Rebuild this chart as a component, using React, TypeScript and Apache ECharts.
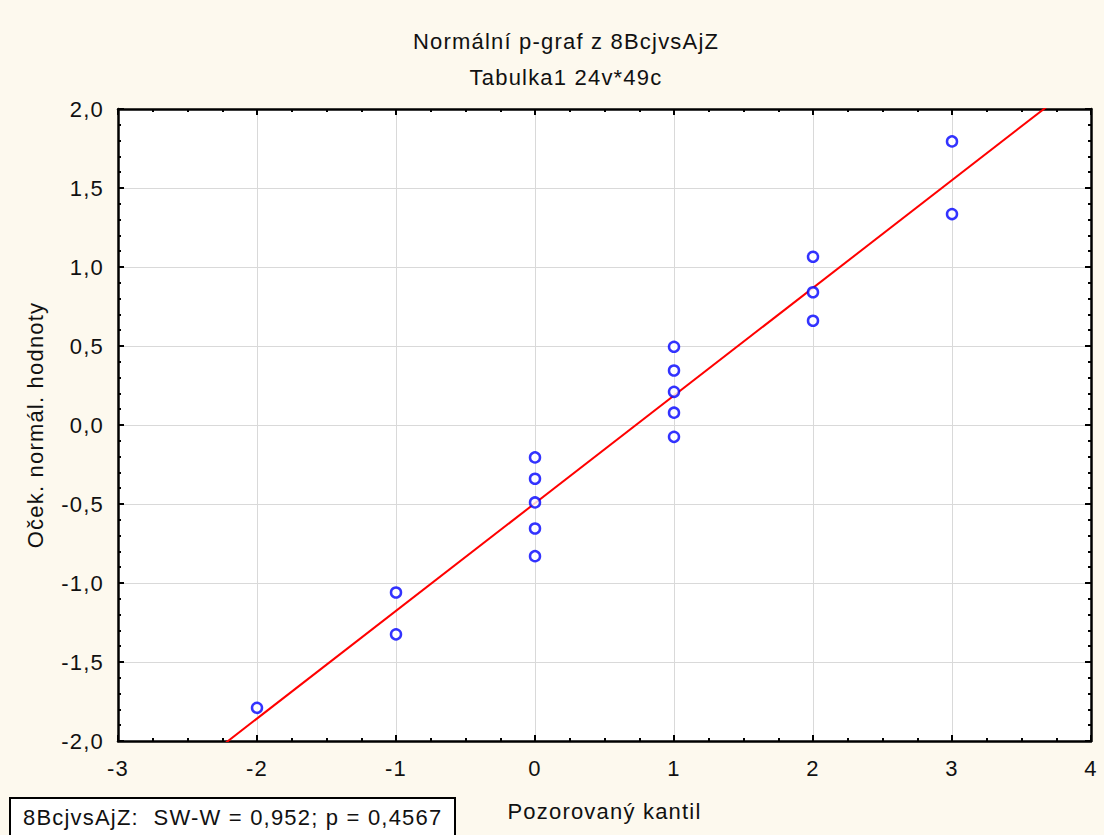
import React, { useEffect, useRef } from "react";
import * as echarts from "echarts";

// Observed quantiles (x) and expected normal values (y)
const observed = [-2, -1, -1, 0, 0, 0, 0, 0, 1, 1, 1, 1, 1, 2, 2, 2, 3, 3];
const expected = [
  -1.79, -1.06, -1.325, -0.205, -0.34, -0.49, -0.655, -0.83, 0.495, 0.345, 0.21,
  0.078, -0.075, 1.065, 0.84, 0.66, 1.795, 1.335,
];

// Fitted reference line
const fitSlope = 0.6815;
const fitIntercept = -0.495;

const xTicks = { min: -3, max: 4, interval: 1 };
const yTicks = { min: -2, max: 2, interval: 0.5 };

const titleText = "Normální p-graf z 8BcjvsAjZ";
const subtitleText = "Tabulka1 24v*49c";
const xName = "Pozorovaný kantil";
const yName = "Oček. normál. hodnoty";
const statText = "8BcjvsAjZ:  SW-W = 0,952; p = 0,4567";

const FONT = "Liberation Sans, Arial, sans-serif";
const FS = 22;

export default function App() {
  const ref = useRef<HTMLDivElement>(null);

  useEffect(() => {
    if (!ref.current) return;
    const chart = echarts.init(ref.current, undefined, { renderer: "svg" });

    const points = observed.map((x, i) => [x, expected[i]]);
    const linePts = [xTicks.min, xTicks.max].map((x) => [x, fitIntercept + fitSlope * x]);

    const comma = (v: number, digits: number) => v.toFixed(digits).replace(".", ",");

    const frameLine = { show: true, onZero: false, lineStyle: { color: "#000", width: 2.5 } };
    const tickIn = { show: true, inside: true, length: 6, lineStyle: { color: "#000", width: 2 } };
    const minorIn = (n: number) => ({
      show: true,
      splitNumber: n,
      length: 3,
      lineStyle: { color: "#000", width: 2 },
    });
    const txt = { fontFamily: FONT, fontSize: FS, fontWeight: "normal", color: "#111" };

    chart.setOption({
      animation: false,
      backgroundColor: "#fdf9ee",
      textStyle: { fontFamily: FONT },
      title: [
        { text: titleText, left: 561, top: 25, textAlign: "center", textStyle: txt },
        { text: subtitleText, left: 561, top: 61, textAlign: "center", textStyle: txt },
      ],
      grid: {
        left: 118,
        right: 13,
        top: 109,
        bottom: 94,
        show: true,
        backgroundColor: "#ffffff",
        borderWidth: 0,
      },
      xAxis: [
        {
          type: "value",
          min: xTicks.min,
          max: xTicks.max,
          interval: xTicks.interval,
          position: "bottom",
          axisLine: frameLine,
          axisTick: tickIn,
          minorTick: minorIn(4),
          splitLine: { show: true, lineStyle: { color: "#d9d9d9", width: 1 } },
          axisLabel: { ...txt, margin: 16, formatter: (v: number) => comma(v, 0) },
          name: xName,
          nameLocation: "middle",
          nameGap: 59,
          nameTextStyle: txt,
        },
        {
          type: "value",
          min: xTicks.min,
          max: xTicks.max,
          interval: xTicks.interval,
          position: "top",
          axisLine: frameLine,
          axisTick: tickIn,
          minorTick: minorIn(4),
          splitLine: { show: false },
          axisLabel: { show: false },
        },
      ],
      yAxis: [
        {
          type: "value",
          min: yTicks.min,
          max: yTicks.max,
          interval: yTicks.interval,
          position: "left",
          axisLine: frameLine,
          axisTick: tickIn,
          minorTick: minorIn(5),
          splitLine: { show: true, lineStyle: { color: "#d9d9d9", width: 1 } },
          axisLabel: { ...txt, margin: 14, formatter: (v: number) => comma(v, 1) },
          name: yName,
          nameLocation: "middle",
          nameGap: 72,
          nameTextStyle: txt,
        },
        {
          type: "value",
          min: yTicks.min,
          max: yTicks.max,
          interval: yTicks.interval,
          position: "right",
          axisLine: frameLine,
          axisTick: tickIn,
          minorTick: minorIn(5),
          splitLine: { show: false },
          axisLabel: { show: false },
        },
      ],
      graphic: [
        {
          type: "rect",
          shape: { x: 10, y: 798, width: 445, height: 50 },
          style: { fill: "#ffffff", stroke: "#000", lineWidth: 2 },
        },
        {
          type: "text",
          x: 23,
          y: 806,
          style: { text: statText, fontFamily: FONT, fontSize: FS, fill: "#111" },
        },
      ],
      series: [
        {
          type: "line",
          data: linePts,
          symbol: "none",
          clip: true,
          lineStyle: { color: "#ff0000", width: 2 },
          z: 2,
        },
        {
          type: "scatter",
          data: points,
          symbol: "circle",
          symbolSize: 10,
          itemStyle: { color: "#ffffff", borderColor: "#0000ff", borderWidth: 2.5 },
          z: 3,
        },
      ],
    });

    return () => chart.dispose();
  }, []);

  return (
    <>
      <style>{`#pplot text { letter-spacing: 1.2px; }`}</style>
      <div
        id="pplot"
        ref={ref}
        style={{ width: 1104, height: 835, position: "absolute", left: 0, top: 0 }}
      />
    </>
  );
}
